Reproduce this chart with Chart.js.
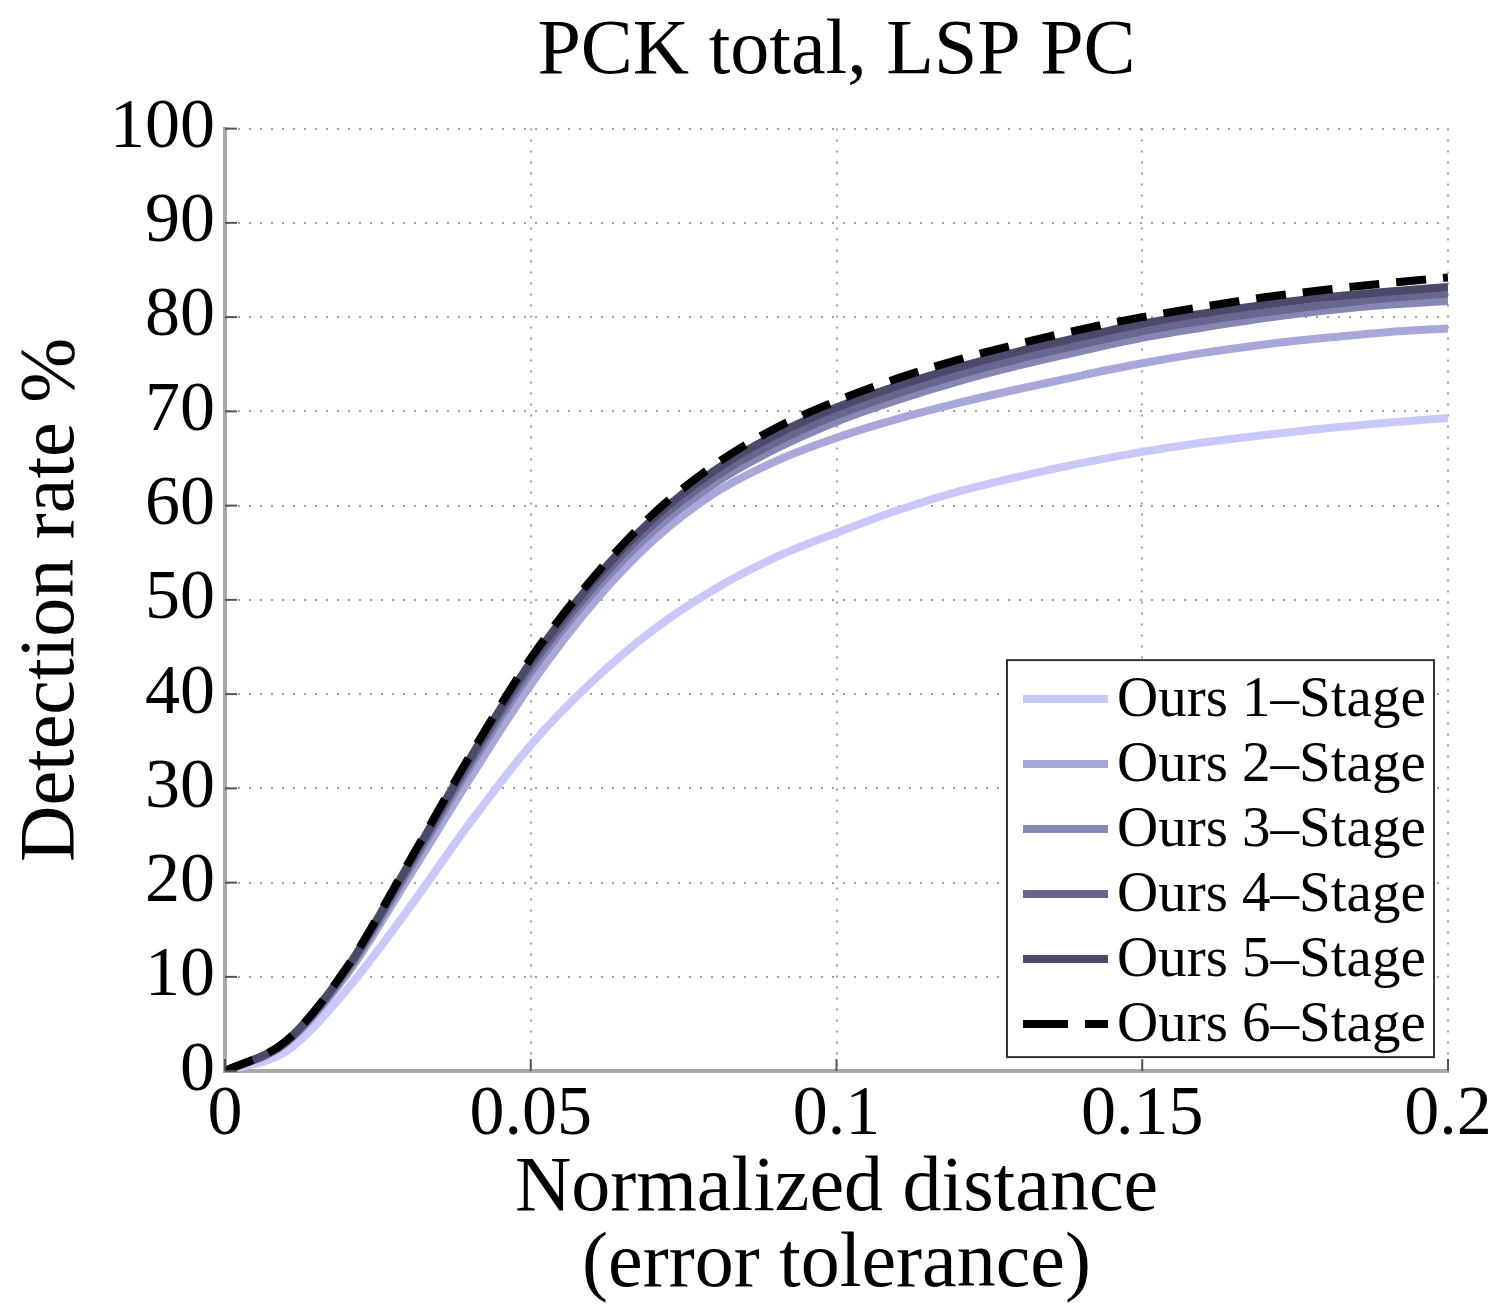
<!DOCTYPE html>
<html>
<head>
<meta charset="utf-8">
<script src="https://cdn.jsdelivr.net/npm/chart.js@4.4.0/dist/chart.umd.min.js"></script>
<style>
  html, body { margin: 0; padding: 0; background: #fff; }
  #wrap { width: 1503px; height: 1304px; }
</style>
</head>
<body>
<div id="wrap"><canvas id="pckChart" width="1503" height="1304"></canvas></div>
<script>
// distancias normalizadas (umbral)
const distances = [0, 0.01, 0.02, 0.03, 0.04, 0.05, 0.06, 0.07, 0.08, 0.09, 0.10,
                   0.11, 0.12, 0.13, 0.14, 0.15, 0.16, 0.17, 0.18, 0.19, 0.20];

const stage1 = [0, 2.1, 8.7, 17.2, 26.3, 34.6, 41.3, 46.8, 51.1, 54.5, 57.1,
                59.5, 61.5, 63.1, 64.5, 65.7, 66.7, 67.5, 68.2, 68.8, 69.3];
const stage2 = [0, 3.0, 10.3, 20.5, 31.0, 41.0, 49.5, 56.3, 61.3, 64.7, 67.2,
                69.2, 70.9, 72.4, 73.8, 75.1, 76.2, 77.1, 77.8, 78.4, 78.8];
const stage3 = [0, 3.0, 10.6, 21.2, 32.2, 42.3, 50.6, 57.3, 62.3, 66.0, 68.9,
                71.2, 73.2, 74.9, 76.4, 77.8, 78.9, 79.9, 80.7, 81.3, 81.7];
const stage4 = [0, 3.1, 10.8, 21.6, 32.7, 42.9, 51.2, 58.0, 63.0, 66.7, 69.6,
                71.9, 73.9, 75.6, 77.1, 78.5, 79.6, 80.5, 81.3, 82.0, 82.5];
const stage5 = [0, 3.2, 11.0, 21.9, 33.1, 43.4, 51.8, 58.6, 63.7, 67.5, 70.4,
                72.7, 74.7, 76.4, 77.9, 79.3, 80.4, 81.3, 82.1, 82.7, 83.2];
const stage6 = [0, 3.2, 11.1, 22.1, 33.4, 43.8, 52.2, 59.1, 64.3, 68.2, 71.1,
                73.5, 75.5, 77.2, 78.7, 80.0, 81.1, 82.1, 82.9, 83.6, 84.2];

const seriesLabels = ['Ours 1\u2013Stage', 'Ours 2\u2013Stage', 'Ours 3\u2013Stage',
                      'Ours 4\u2013Stage', 'Ours 5\u2013Stage', 'Ours 6\u2013Stage'];
const seriesValues = [stage1, stage2, stage3, stage4, stage5, stage6];
const seriesColors = ['#c8c8fa', '#a7a7da', '#8787b6', '#66668f', '#4a4a6b', '#000000'];

const xTicks = [0, 0.05, 0.1, 0.15, 0.2];
const yTicks = [0, 10, 20, 30, 40, 50, 60, 70, 80, 90, 100];

const serif = "'Liberation Serif', 'Times New Roman', serif";

const datasets = seriesValues.map((vals, i) => ({
    label: seriesLabels[i],
    data: vals.map((v, k) => ({ x: distances[k], y: v })),
    borderColor: seriesColors[i],
    backgroundColor: seriesColors[i],
    borderWidth: 8,
    borderDash: i === 5 ? [30, 17] : [],
    borderJoinStyle: 'round',
    pointRadius: 0,
    cubicInterpolationMode: 'monotone',
    fill: false,
    order: 6 - i
}));

// leyenda dibujada dentro del área (abajo a la derecha) + marcas hacia dentro
const boxLegend = {
    id: 'boxLegend',
    afterDraw(chart) {
        const c = chart.ctx;
        const area = chart.chartArea;
        const xs = chart.scales.x, ys = chart.scales.y;

        // marcas de los ejes hacia dentro
        c.save();
        c.strokeStyle = '#555';
        c.lineWidth = 2;
        yTicks.forEach(t => {
            const py = ys.getPixelForValue(t);
            c.beginPath(); c.moveTo(area.left, py); c.lineTo(area.left + 12, py); c.stroke();
        });
        xTicks.forEach(t => {
            const px = xs.getPixelForValue(t);
            c.beginPath(); c.moveTo(px, area.bottom); c.lineTo(px, area.bottom - 12); c.stroke();
        });
        c.restore();

        const w = 427, h = 397;
        const bx = area.right - 14 - w;
        const by = area.bottom - 14 - h;
        c.save();
        c.fillStyle = '#fff';
        c.fillRect(bx, by, w, h);
        c.strokeStyle = '#333';
        c.lineWidth = 2;
        c.strokeRect(bx, by, w, h);
        c.font = '57px ' + serif;
        c.textBaseline = 'middle';
        c.fillStyle = '#000';
        seriesLabels.forEach((lab, i) => {
            const cy = by + 39 + i * 65;
            c.strokeStyle = seriesColors[i];
            c.lineWidth = 8;
            c.setLineDash(i === 5 ? [45, 17] : []);
            c.beginPath(); c.moveTo(bx + 16, cy); c.lineTo(bx + 101, cy); c.stroke();
            c.setLineDash([]);
            c.fillText(lab, bx + 110, cy + 2);
        });
        c.restore();
    }
};

new Chart(document.getElementById('pckChart').getContext('2d'), {
    type: 'line',
    data: { datasets: datasets },
    plugins: [boxLegend],
    options: {
        responsive: false,
        animation: false,
        layout: { padding: { left: 14, right: 55, top: 4, bottom: 0 } },
        plugins: {
            legend: { display: false },
            tooltip: { enabled: false },
            title: {
                display: true,
                fullSize: false,
                text: 'PCK total, LSP PC',
                color: '#000',
                font: { family: serif, size: 78, weight: 'normal' },
                padding: { top: 2, bottom: 29 }
            }
        },
        scales: {
            x: {
                type: 'linear',
                min: 0,
                max: 0.2,
                afterBuildTicks: axis => { axis.ticks = xTicks.map(v => ({ value: v })); },
                ticks: {
                    color: '#000',
                    font: { family: serif, size: 70 },
                    padding: 2,
                    maxRotation: 0,
                    callback: v => String(+Number(v).toFixed(2))
                },
                grid: {
                    color: '#a0a0a0',
                    lineWidth: 2,
                    drawTicks: false
                },
                border: { display: true, color: '#a8a8a8', width: 4, dash: [2, 9] },
                title: {
                    display: true,
                    text: ['Normalized distance', '(error tolerance)'],
                    color: '#000',
                    font: { family: serif, size: 78, lineHeight: 0.98 },
                    padding: { top: -8, bottom: 0 }
                }
            },
            y: {
                min: 0,
                max: 100,
                afterBuildTicks: axis => { axis.ticks = yTicks.map(v => ({ value: v })); },
                ticks: {
                    color: '#000',
                    font: { family: serif, size: 70 },
                    padding: 10
                },
                grid: {
                    color: '#a0a0a0',
                    lineWidth: 2,
                    drawTicks: false
                },
                border: { display: true, color: '#a8a8a8', width: 4, dash: [2, 9] },
                title: {
                    display: true,
                    text: 'Detection rate %',
                    color: '#000',
                    font: { family: serif, size: 78, lineHeight: 1 },
                    padding: { top: 0, bottom: 8 }
                }
            }
        }
    }
});
</script>
</body>
</html>
